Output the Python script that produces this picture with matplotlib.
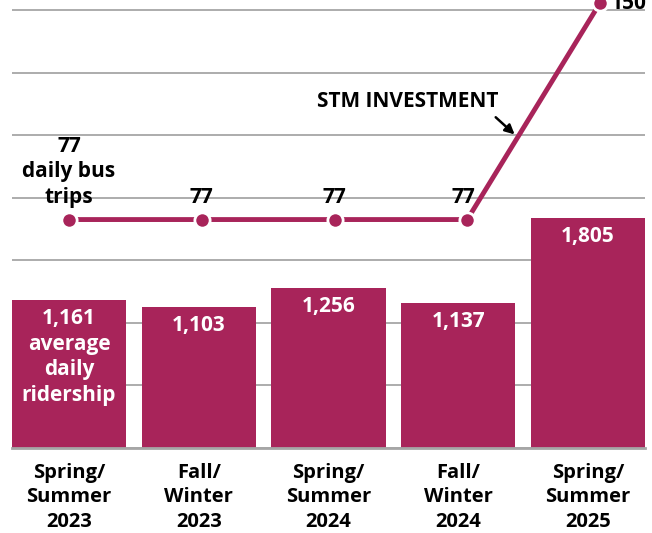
import numpy as np
import matplotlib
matplotlib.use('Agg')
import matplotlib.pyplot as plt

# Data
seasons = ['Spring/\nSummer\n2023', 'Fall/\nWinter\n2023', 'Spring/\nSummer\n2024',
           'Fall/\nWinter\n2024', 'Spring/\nSummer\n2025']
ridership = [1161, 1103, 1256, 1137, 1805]
ridership_labels = ['1,161\naverage\ndaily\nridership', '1,103', '1,256', '1,137', '1,805']
bus_trips = [77, 77, 77, 77, 150]
trip_labels = ['77\ndaily bus\ntrips', '77', '77', '77', '150']

COLOR = '#A8245A'
plt.rcParams['font.family'] = ['Open Sans', 'DejaVu Sans']

fig = plt.figure(figsize=(6.52, 5.33), dpi=100)
rect = [12 / 652, 1 - 448 / 533, 633 / 652, 448 / 533]
ax = fig.add_axes(rect)

x = np.arange(len(seasons))
ax.set_xlim(-0.44, 4.44)
ax.set_ylim(0, 3512)
ax.set_yticks(np.arange(0, 3500, 490))
ax.yaxis.grid(True, color='#a6a6a6', linewidth=1.3)
ax.set_axisbelow(True)
for s in ['top', 'right', 'left']:
    ax.spines[s].set_visible(False)
ax.spines['bottom'].set_color('#a6a6a6')
ax.spines['bottom'].set_linewidth(2)
ax.tick_params(axis='y', left=False, right=False, labelleft=False, length=0)
ax.tick_params(axis='x', bottom=False, pad=7)
ax.set_xticks(x)
ax.set_xticklabels(seasons, fontsize=14.5, fontweight='bold', linespacing=1.32)

bars = ax.bar(x, ridership, width=0.88, color=COLOR, zorder=2)
for xi, val, lab in zip(x, ridership, ridership_labels):
    ax.annotate(lab, (xi, val), xytext=(0, -8), textcoords='offset pixels',
                ha='center', va='top', color='white', fontsize=15,
                fontweight='bold', linespacing=1.3, zorder=3)

# bus trips drawn on an overlay with its own scales
ax2 = fig.add_axes(rect)
ax2.patch.set_visible(False)
ax2.set_xlim(-0.4294, 4.339)
ax2.set_ylim(0, 151)
ax2.axis('off')
ax2.plot(x, bus_trips, color=COLOR, linewidth=3.5, marker='o', markersize=11,
         markeredgecolor='white', markeredgewidth=2, clip_on=False, zorder=4)

for i, (xi, val, lab) in enumerate(zip(x, bus_trips, trip_labels)):
    if i == 4:
        ax2.annotate(lab, (xi, val), xytext=(11, -1), textcoords='offset pixels',
                     ha='left', va='center', fontsize=15, fontweight='bold',
                     annotation_clip=False)
    else:
        dx = -4 if i == 3 else 0
        ax2.annotate(lab, (xi, val), xytext=(dx, 12), textcoords='offset pixels',
                     ha='center', va='bottom', fontsize=15, fontweight='bold',
                     linespacing=1.27)

# STM investment callout, pointing at the rising segment
t = 0.38
tip_x = x[3] + t
tip_y = bus_trips[3] + (bus_trips[4] - bus_trips[3]) * t
ax2.annotate('STM INVESTMENT', (tip_x, tip_y), xytext=(-19, 25), textcoords='offset pixels',
             ha='right', va='bottom', fontsize=15, fontweight='bold')
ax2.annotate('', (tip_x, tip_y), xytext=(-22, 20), textcoords='offset pixels',
             arrowprops=dict(arrowstyle='-|>', color='black', lw=1.8, mutation_scale=14,
                             shrinkA=0, shrinkB=3))

fig.savefig('out.png', dpi=100)
